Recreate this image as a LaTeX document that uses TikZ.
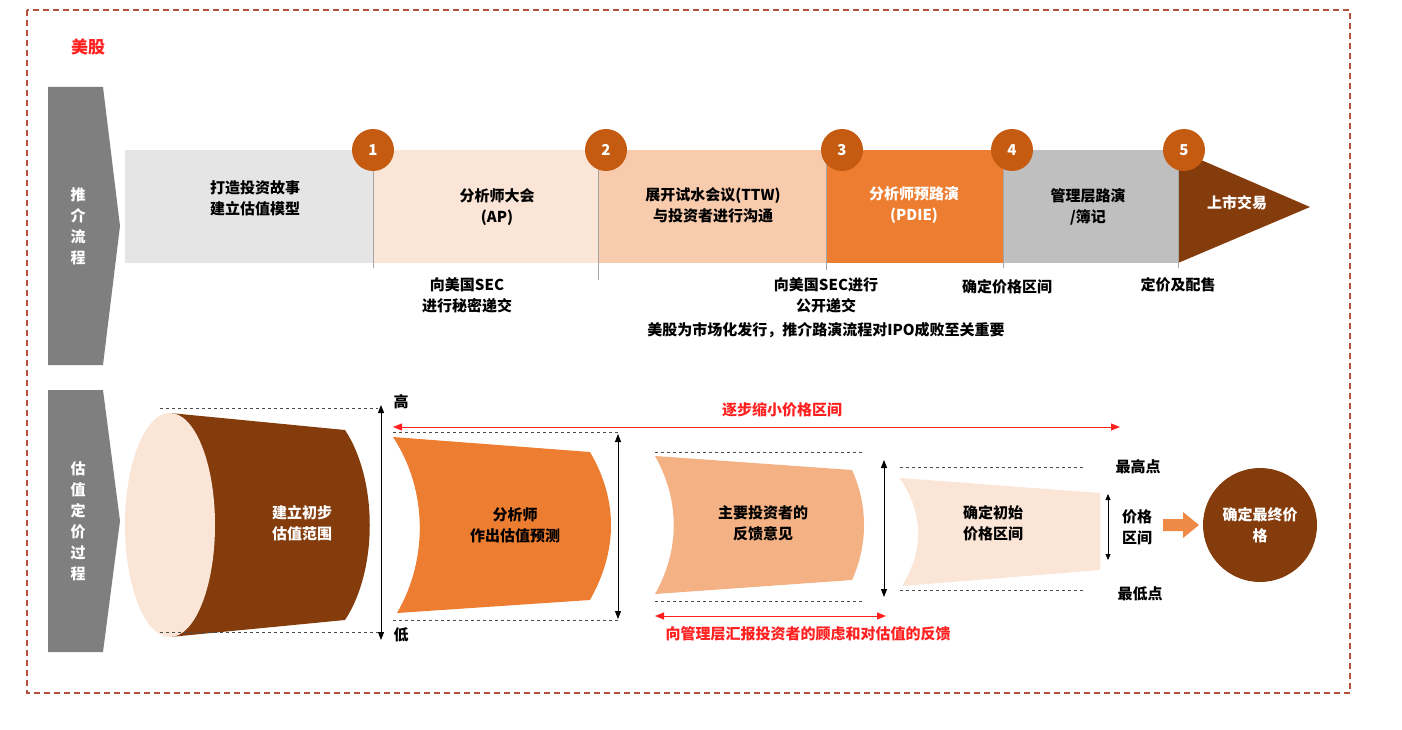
\documentclass[tikz,border=0pt]{standalone}
\usepackage{fontspec}
\setmainfont{Noto Sans CJK SC}
\usetikzlibrary{arrows.meta}
\definecolor{dbrown}{HTML}{843C0C}
\definecolor{orng}{HTML}{ED7D31}
\definecolor{lpeach}{HTML}{FBE5D6}
\definecolor{peach}{HTML}{F8CBAD}
\definecolor{mpeach}{HTML}{F4B183}
\definecolor{numc}{HTML}{C55A11}
\definecolor{framec}{HTML}{B5503A}
\definecolor{redc}{HTML}{FF2020}
\definecolor{grayc}{HTML}{7F7F7F}
\tikzset{
 txt/.style={font=\fontsize{15}{21}\selectfont\bfseries, align=center, inner sep=0},
 wtxt/.style={txt, text=white},
 num/.style={circle, fill=numc, minimum size=42pt, inner sep=0, text=white, font=\fontsize{15}{15}\selectfont\bfseries},
 gline/.style={dashed, black!70, line width=0.8pt},
 dbl/.style={{Triangle[length=8pt,width=6pt]}-{Triangle[length=8pt,width=6pt]}, line width=1pt},
 rdbl/.style={{Triangle[length=9pt,width=7pt]}-{Triangle[length=9pt,width=7pt]}, line width=1pt, redc},
 sepl/.style={grayc!70, line width=0.8pt}
}
\begin{document}
\begin{tikzpicture}[x=1pt,y=-1pt]
\useasboundingbox (0,0) rectangle (1402,730);
\fill[white] (0,0) rectangle (1402,730);
\draw[framec, line width=1.5pt, dash pattern=on 6pt off 4pt] (27,10) rectangle (1350,693);
\node[txt, text=redc, font=\fontsize{17}{17}\selectfont\bfseries\itshape] (mg) at (88,47) {美股};
% left chevrons
\fill[grayc] (48,87) -- (103,87) -- (120,226) -- (103,365) -- (48,365) -- cycle;
\node[wtxt] (l1) at (78,226) {推\\介\\流\\程};
\fill[grayc] (48,390) -- (103,390) -- (120,521) -- (103,652) -- (48,652) -- cycle;
\node[wtxt] (l2) at (78,521) {估\\值\\定\\价\\过\\程};
% top bar
\fill[black!10] (125,150) rectangle (373,263);
\fill[lpeach] (373,150) rectangle (598,263);
\fill[peach] (598,150) rectangle (826,263);
\fill[orng] (826,150) rectangle (1003,263);
\fill[black!25] (1003,150) rectangle (1178,263);
\fill[dbrown] (1178,150) -- (1310,207) -- (1178,263) -- cycle;
\draw[sepl] (373,150) -- (373,268);
\draw[sepl] (598,150) -- (598,280);
\draw[sepl] (826,150) -- (826,270);
\draw[sepl] (1003,150) -- (1003,268);
\draw[sepl] (1178,150) -- (1178,268);
\node[num] (n1) at (373,150) {1};
\node[num] (n2) at (606,150) {2};
\node[num] (n3) at (842,150) {3};
\node[num] (n4) at (1012,150) {4};
\node[num] (n5) at (1184,150) {5};
\node[txt] (s1) at (255,198) {打造投资故事\\建立估值模型};
\node[txt] (s2) at (497,207) {分析师大会\\(AP)};
\node[txt] (s3) at (713,205) {展开试水会议(TTW)\\与投资者进行沟通};
\node[wtxt] (s4) at (914,205) {分析师预路演\\(PDIE)};
\node[txt] (s5) at (1088,207) {管理层路演\\/簿记};
\node[wtxt] (s6) at (1237,203) {上市交易};
\node[txt] (b1) at (467,295) {向美国SEC\\进行秘密递交};
\node[txt] (b2) at (826,295) {向美国SEC进行\\公开递交};
\node[txt] (b3) at (1007,287) {确定价格区间};
\node[txt] (b4) at (1178,285) {定价及配售};
\node[txt] (b5) at (826,330) {美股为市场化发行，推介路演流程对IPO成败至关重要};
% shape 1
\fill[dbrown] (170,413) -- (345,430) .. controls (378,480) and (378,570) .. (345,620) -- (170,637) -- cycle;
\fill[lpeach] (170,525) ellipse [x radius=45, y radius=112];
\node[wtxt] (f1) at (302,523) {建立初步\\估值范围};
\draw[gline] (160,408) -- (378,408);
\draw[gline] (160,632) -- (378,632);
\coordinate (h1) at (381,405); \coordinate (h2) at (381,640);
\draw[dbl] (h1) -- (h2);
\node[txt] (hi) at (401,402) {高};
\node[txt] (lo) at (401,635) {低};
% shape 2
\fill[orng] (393,437) -- (590,452) .. controls (618,500) and (618,550) .. (590,600) -- (397,613) .. controls (428,560) and (428,490) .. cycle;
\node[txt] (f2) at (515,525) {分析师\\作出估值预测};
\draw[gline] (393,432) -- (618,432);
\draw[gline] (393,620) -- (618,620);
\coordinate (h3) at (618,434); \coordinate (h4) at (618,619);
\draw[dbl] (h3) -- (h4);
% shape 3
\fill[mpeach] (655,456) -- (852,470) .. controls (868,505) and (868,545) .. (852,580) -- (655,594) .. controls (680,550) and (680,500) .. cycle;
\node[txt] (f3) at (763,523) {主要投资者的\\反馈意见};
\draw[gline] (655,452) -- (862,452);
\draw[gline] (655,601) -- (862,601);
\coordinate (h5) at (884,460); \coordinate (h6) at (884,597);
\draw[dbl] (h5) -- (h6);
% shape 4
\fill[lpeach] (900,478) -- (1100,493) -- (1100,570) -- (902,586) .. controls (924,550) and (924,515) .. cycle;
\node[txt] (f4) at (993,523) {确定初始\\价格区间};
\draw[gline] (900,467) -- (1085,467);
\draw[gline] (900,590) -- (1085,590);
\node[txt] (zg) at (1138,467) {最高点};
\node[txt] (zd) at (1140,594) {最低点};
\coordinate (h7) at (1108,494); \coordinate (h8) at (1108,560);
\draw[{Triangle[length=6pt,width=5pt]}-{Triangle[length=6pt,width=5pt]}, line width=0.9pt] (h7) -- (h8);
\node[txt] (jg) at (1137,527) {价格\\区间};
\fill[orng!90] (1163,519) -- (1183,519) -- (1183,512) -- (1199,525) -- (1183,538) -- (1183,531) -- (1163,531) -- cycle;
\node[circle, fill=dbrown, minimum size=114pt, inner sep=0] (fin) at (1260,525) {};
\node[wtxt] (fint) at (fin) {确定最终价\\格};
% red arrows
\node[txt, text=redc] (r1) at (782,410) {逐步缩小价格区间};
\coordinate (ra) at (393,427); \coordinate (rb) at (1120,427);
\draw[rdbl] (ra) -- (rb);
\coordinate (rc) at (655,616); \coordinate (rd) at (886,616);
\draw[rdbl] (rc) -- (rd);
\node[txt, text=redc] (r2) at (808,634) {向管理层汇报投资者的顾虑和对估值的反馈};
\end{tikzpicture}
\end{document}
